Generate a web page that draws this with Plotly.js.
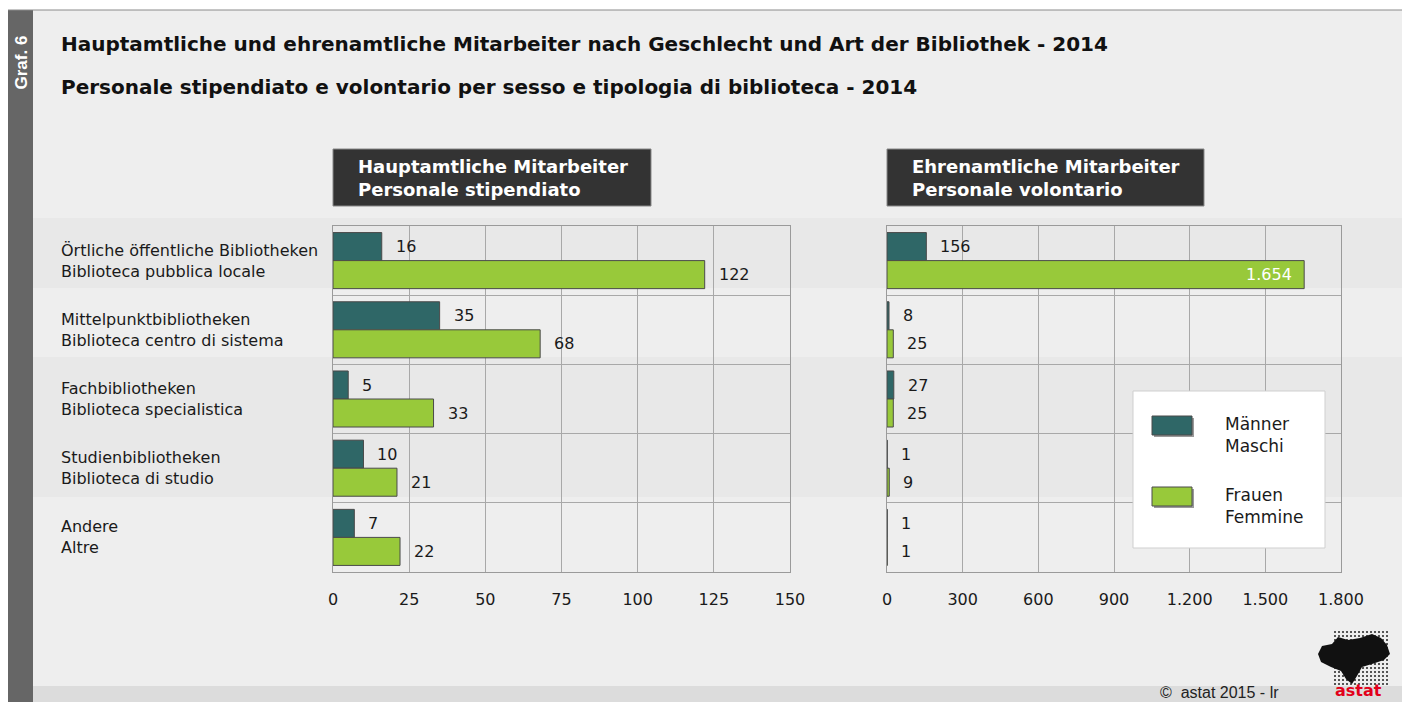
<!DOCTYPE html>
<html>
<head>
<meta charset="utf-8">
<script src="https://cdn.plot.ly/plotly-3.0.1.min.js"></script>
<style>
html,body{margin:0;padding:0;background:#fff;}
#chart{width:1402px;height:702px;}
</style>
</head>
<body>
<div id="chart"></div>
<script>
// ---------- DATA ----------
const categoriesDE = ["Örtliche öffentliche Bibliotheken", "Mittelpunktbibliotheken", "Fachbibliotheken", "Studienbibliotheken", "Andere"];
const categoriesIT = ["Biblioteca pubblica locale", "Biblioteca centro di sistema", "Biblioteca specialistica", "Biblioteca di studio", "Altre"];
const paidMale   = [16, 35, 5, 10, 7];
const paidFemale = [122, 68, 33, 21, 22];
const volMale    = [156, 8, 27, 1, 1];
const volFemale  = [1654, 25, 25, 9, 1];
const paidTicks  = [0, 25, 50, 75, 100, 125, 150];
const volTicks   = [0, 300, 600, 900, 1200, 1500, 1800];
const volTickLabels = ["0", "300", "600", "900", "1.200", "1.500", "1.800"];
const seriesNames = [["Männer", "Maschi"], ["Frauen", "Femmine"]];
const panelTitles = [["Hauptamtliche Mitarbeiter", "Personale stipendiato"], ["Ehrenamtliche Mitarbeiter", "Personale volontario"]];
const titleDE = "Hauptamtliche und ehrenamtliche Mitarbeiter nach Geschlecht und Art der Bibliothek - 2014";
const titleIT = "Personale stipendiato e volontario per sesso e tipologia di biblioteca - 2014";

// ---------- STYLE ----------
const W = 1402, H = 702;
const FONT = "DejaVu Sans, Liberation Sans, Arial, sans-serif";
const FONT2 = "Liberation Sans, Arial, sans-serif";
const MALE = "#2f6767", FEMALE = "#98c93a";
const px = x => x / W;
const py = y => 1 - y / H;
const fmt = v => v.toLocaleString("de-DE");

const yCats = categoriesDE;

function barTrace(vals, color, xa, ya, name) {
  return {
    type: "bar", orientation: "h", x: vals, y: yCats, name: name,
    xaxis: xa, yaxis: ya, showlegend: false, hoverinfo: "x",
    marker: {color: color, line: {color: "#4a4a4a", width: 1}}
  };
}

const data = [
  barTrace(paidMale, MALE, "x", "y", "Männer"),
  barTrace(paidFemale, FEMALE, "x", "y", "Frauen"),
  barTrace(volMale, MALE, "x2", "y2", "Männer"),
  barTrace(volFemale, FEMALE, "x2", "y2", "Frauen")
];

const annotations = [];
const shapes = [];

function rect(x0, y0, x1, y1, fill, line, lw, layer) {
  shapes.push({type: "rect", xref: "paper", yref: "paper", x0: px(x0), x1: px(x1), y0: py(y1), y1: py(y0),
    fillcolor: fill, line: {color: line || fill, width: lw === undefined ? 0 : lw}, layer: layer || "below"});
}

// background panels
rect(8, 10, 33, 702, "#666666");
rect(33, 10, 1402, 686, "#eeeeee");
rect(33, 686, 1402, 702, "#dcdcdc");
rect(33, 218, 1402, 288, "#e8e8e8");
rect(33, 357, 1402, 497, "#e8e8e8");
shapes.push({type: "line", xref: "paper", yref: "paper", x0: px(8), x1: px(1402), y0: py(10), y1: py(10), line: {color: "#8a8a8a", width: 1}, layer: "below"});

// side label
annotations.push({xref: "paper", yref: "paper", x: px(20.5), y: py(63), xanchor: "center", yanchor: "middle",
  text: "<b>Graf. 6</b>", textangle: -90,
  showarrow: false, font: {family: FONT2, size: 17, color: "#ffffff"}});

// titles
annotations.push({xref: "paper", yref: "paper", x: px(59), y: py(44), xanchor: "left", yanchor: "middle",
  text: "<b>" + titleDE + "</b>", showarrow: false, font: {family: FONT, size: 20, color: "#111"}});
annotations.push({xref: "paper", yref: "paper", x: px(59), y: py(87), xanchor: "left", yanchor: "middle",
  text: "<b>" + titleIT + "</b>", showarrow: false, font: {family: FONT, size: 20, color: "#111"}});

// panel headers
const headerBoxes = [[333, 651], [887, 1204]];
headerBoxes.forEach((b, i) => {
  rect(b[0], 149, b[1], 206, "#333333", "#888888", 1, "above");
  annotations.push({xref: "paper", yref: "paper", x: px(b[0] + 23), y: py(177.5), xanchor: "left", yanchor: "middle",
    align: "left", text: "<b>" + panelTitles[i][0] + "</b><br><b>" + panelTitles[i][1] + "</b>", showarrow: false,
    font: {family: FONT, size: 18, color: "#ffffff"}});
});

// category labels
categoriesDE.forEach((c, i) => {
  annotations.push({xref: "paper", yref: "y", x: px(59), y: c, xanchor: "left", yanchor: "middle", align: "left",
    text: c + "<br>" + categoriesIT[i], showarrow: false, font: {family: FONT, size: 16, color: "#1a1a1a"}});
});

// value labels
function valueLabels(vals, xa, ya, shift, maxRange) {
  vals.forEach((v, i) => {
    const inside = v > maxRange * 0.9;
    annotations.push({xref: xa, yref: ya, x: v, y: yCats[i], xanchor: inside ? "right" : "left", yanchor: "middle",
      xshift: inside ? -10 : 12, yshift: shift, text: fmt(v), showarrow: false,
      font: {family: FONT, size: 16, color: inside ? "#ffffff" : "#1a1a1a"}});
  });
}
valueLabels(paidMale, "x", "y", 14, 150);
valueLabels(paidFemale, "x", "y", -14, 150);
valueLabels(volMale, "x2", "y2", 14, 1800);
valueLabels(volFemale, "x2", "y2", -14, 1800);

// legend
rect(1133, 391, 1325, 548, "#ffffff", "#cfcfcf", 1, "above");
[[416, 435, MALE, 424], [487, 506, FEMALE, 495]].forEach((s, i) => {
  rect(1154, s[0] + 2, 1194, s[1] + 2, "#9a9a9a", "#9a9a9a", 0, "above");
  rect(1152, s[0], 1192, s[1], s[2], "#4a4a4a", 1, "above");
  annotations.push({xref: "paper", yref: "paper", x: px(1223), y: py(s[3] + 11), xanchor: "left", yanchor: "middle",
    align: "left", text: seriesNames[i][0] + "<br>" + seriesNames[i][1], showarrow: false,
    font: {family: FONT, size: 17, color: "#1a1a1a"}});
});

// footer
annotations.push({xref: "paper", yref: "paper", x: px(1281), y: py(692), xanchor: "right", yanchor: "middle",
  text: "©  astat 2015 - lr", showarrow: false, font: {family: FONT2, size: 16, color: "#222"}});
annotations.push({xref: "paper", yref: "paper", x: px(1358), y: py(690), xanchor: "center", yanchor: "middle",
  text: "<b>astat</b>", showarrow: false, font: {family: FONT, size: 16, color: "#e2001a"}});

// logo: dotted grid + dark silhouette
let dots = "";
for (let yy = 631; yy <= 683; yy += 4) {
  for (let xx = 1334; xx <= 1386; xx += 4) {
    const a = px(xx), b = py(yy), c = px(xx + 2), d = py(yy + 2);
    dots += "M" + a.toFixed(5) + "," + b.toFixed(5) + " L" + c.toFixed(5) + "," + b.toFixed(5) + " L" + c.toFixed(5) + "," + d.toFixed(5) + " L" + a.toFixed(5) + "," + d.toFixed(5) + " Z ";
  }
}
shapes.push({type: "path", xref: "paper", yref: "paper", path: dots, fillcolor: "#555555", line: {width: 0}, layer: "above"});
const logoPts = [[1318,654],[1322,646],[1332,644],[1338,637],[1348,640],[1360,638],[1372,634],[1381,638],[1387,645],[1390,654],[1384,660],[1372,664],[1362,667],[1357,676],[1352,684],[1346,679],[1341,671],[1331,667],[1321,662]];
let path = "M " + logoPts.map(p => px(p[0]).toFixed(5) + "," + py(p[1]).toFixed(5)).join(" L ") + " Z";
shapes.push({type: "path", xref: "paper", yref: "paper", path: path, fillcolor: "#111111", line: {width: 0}, layer: "above"});

const axisCommon = {
  showline: true, mirror: true, linecolor: "#9a9a9a", linewidth: 1,
  showgrid: true, gridcolor: "#a8a8a8", gridwidth: 1, zeroline: false,
  ticks: "", fixedrange: true
};

const layout = {
  width: W, height: H,
  margin: {l: 0, r: 0, t: 0, b: 0},
  paper_bgcolor: "#ffffff", plot_bgcolor: "#ffffff",
  barmode: "group", bargap: 0.19, bargroupgap: 0,
  showlegend: false,
  font: {family: FONT, size: 16, color: "#1a1a1a"},
  xaxis: Object.assign({}, axisCommon, {domain: [px(333), px(790)], range: [0, 150], anchor: "y",
    tickvals: paidTicks, ticktext: paidTicks.map(String), ticklabelstandoff: 13,
    tickfont: {family: FONT, size: 16, color: "#1a1a1a"}}),
  yaxis: Object.assign({}, axisCommon, {domain: [py(572), py(226)], range: [4.5, -0.5], anchor: "x",
    type: "category", categoryorder: "array", categoryarray: yCats, tickson: "boundaries", showticklabels: false}),
  xaxis2: Object.assign({}, axisCommon, {domain: [px(887), px(1341)], range: [0, 1800], anchor: "y2",
    tickvals: volTicks, ticktext: volTickLabels, ticklabelstandoff: 13,
    tickfont: {family: FONT, size: 16, color: "#1a1a1a"}}),
  yaxis2: Object.assign({}, axisCommon, {domain: [py(572), py(226)], range: [4.5, -0.5], anchor: "x2",
    type: "category", categoryorder: "array", categoryarray: yCats, tickson: "boundaries", showticklabels: false}),
  shapes: shapes,
  annotations: annotations
};

Plotly.newPlot("chart", data, layout, {staticPlot: true, displayModeBar: false});
</script>
</body>
</html>
